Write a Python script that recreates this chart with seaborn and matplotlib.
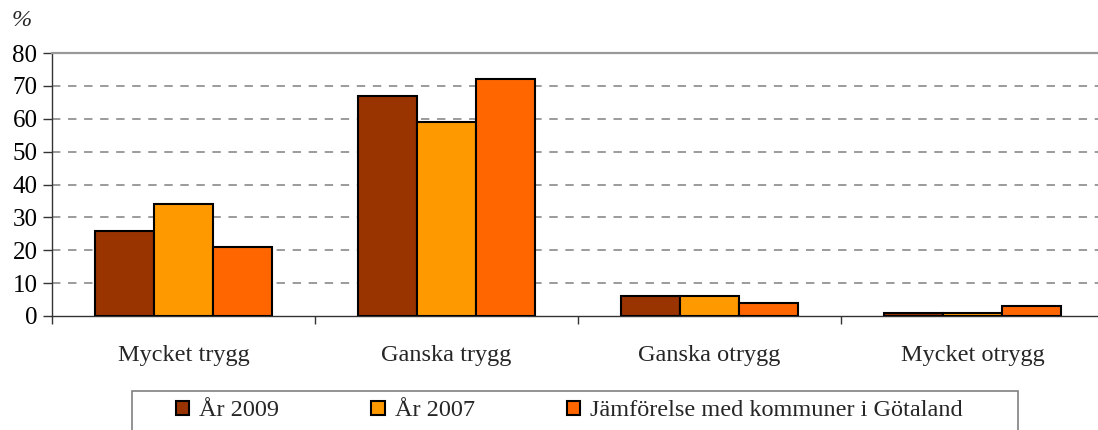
import pandas as pd
import numpy as np
import matplotlib.pyplot as plt
import seaborn as sns
from matplotlib.patches import Patch, Rectangle

sns.set_theme(style="white")
plt.rcParams["font.family"] = ["Liberation Serif", "DejaVu Serif"]

# data
categories = ["Mycket trygg", "Ganska trygg", "Ganska otrygg", "Mycket otrygg"]
series = ["År 2009", "År 2007", "Jämförelse med kommuner i Götaland"]
ar_2009 = [26, 67, 6, 1]
ar_2007 = [34, 59, 6, 1]
gotaland = [21, 72, 4, 3]
colors = ["#993300", "#FF9900", "#FF6600"]

df = pd.DataFrame({
    "kategori": categories * 3,
    "serie": [series[0]] * 4 + [series[1]] * 4 + [series[2]] * 4,
    "varde": ar_2009 + ar_2007 + gotaland,
})

W, H = 1098, 430
fig = plt.figure(figsize=(W / 100, H / 100), dpi=100)
ax = fig.add_axes([52 / W, 1 - 316 / H, 1 - 52 / W, (316 - 53) / H])

sns.barplot(data=df, x="kategori", y="varde", hue="serie", palette=colors,
            width=0.67, edgecolor="black", linewidth=1.5, saturation=1,
            legend=False, ax=ax, zorder=3)

ax.set_ylim(0, 80)
ax.set_xlim(-0.5, 3.477)
ax.set_yticks(range(0, 81, 10))
ax.set_xlabel("")
ax.set_ylabel("")

# dashed grid, solid gray line at the top
for v in range(10, 80, 10):
    ax.axhline(v, color="#808080", linestyle=(0, (5.5, 5)), linewidth=1.1, zorder=1)
ax.spines["top"].set_color("#999999")
ax.spines["top"].set_linewidth(1.6)
ax.spines["right"].set_visible(False)
for side in ["left", "bottom"]:
    ax.spines[side].set_color("#333333")
    ax.spines[side].set_linewidth(1)

ax.tick_params(axis="y", labelsize=18, length=6.5, width=1, color="#333333",
               left=True, pad=4, labelcolor="black")
ax.set_xticks(np.arange(-0.5, 3.5, 1), minor=True)
ax.tick_params(axis="x", which="major", length=0, labelsize=17.5, pad=21)
ax.tick_params(axis="x", which="minor", length=5.5, width=1, color="#333333",
               bottom=True, direction="out")

fig.text(12 / W, 1 - 20 / H, "%", fontsize=17.5, style="italic", va="center")

# legend box, running off the bottom edge like the reference
box = Rectangle((132 / W, -10 / H), (1018 - 132) / W, (430 - 391 + 10) / H,
                transform=fig.transFigure, facecolor="none",
                edgecolor="#808080", linewidth=1.2)
fig.patches.append(box)

handles = [Patch(facecolor=c, edgecolor="black", linewidth=1.5) for c in colors]
leg = fig.legend(handles, series, loc="center left",
                 bbox_to_anchor=(176 / W, 1 - 411 / H), ncol=3,
                 fontsize=17.5, handlelength=0.55, handleheight=0.55,
                 handletextpad=0.4, columnspacing=3.8, borderpad=0,
                 borderaxespad=0, frameon=False)

fig.savefig("out.png", dpi=100)
